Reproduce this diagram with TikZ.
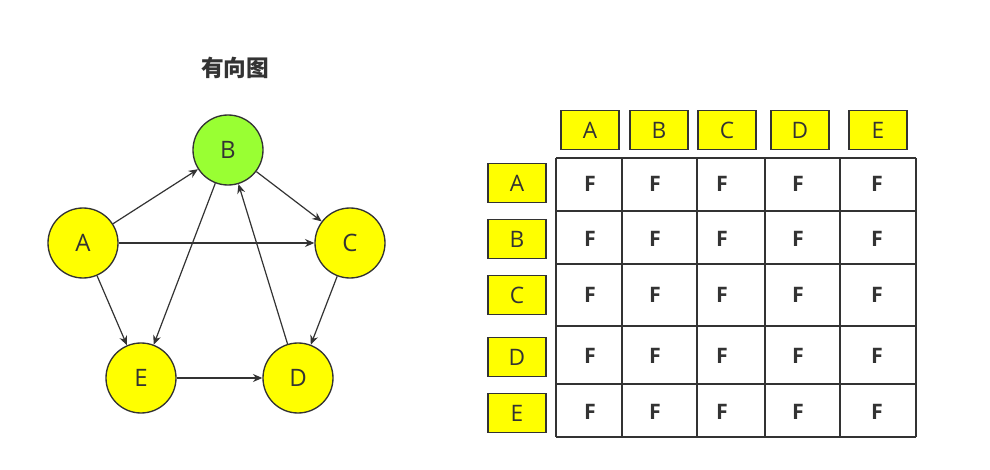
\documentclass[tikz,border=0pt]{standalone}
\usepackage{fontspec}
\setmainfont{Open Sans}
\newfontfamily\cjk{Noto Sans CJK SC}
\usetikzlibrary{arrows.meta}
\definecolor{ylw}{HTML}{FFFF00}
\definecolor{grn}{HTML}{99FF33}
\definecolor{edge}{HTML}{333333}
\definecolor{tred}{HTML}{FF3333}
\tikzset{
 vert/.style={circle,draw=edge,line width=1pt,minimum size=52.5pt,inner sep=0pt,font=\fontsize{18}{18}\selectfont,text=edge},
 arr/.style={-{Stealth[length=7pt,width=6pt]},draw=edge,line width=0.9pt},
 lab/.style={draw=edge,fill=ylw,line width=0.8pt,minimum width=43.5pt,minimum height=29pt,inner sep=0pt,font=\fontsize{17}{17}\selectfont,text=edge},
 cellF/.style={font=\bfseries\fontsize{16}{16}\selectfont,text=edge},
 cellT/.style={font=\bfseries\fontsize{16}{16}\selectfont,text=tred},
 gridl/.style={draw=edge,line width=0.9pt}
}
\begin{document}
\begin{tikzpicture}[x=0.75pt,y=-0.75pt]
\useasboundingbox[fill=white] (0,0) rectangle (990,470);
\node[font=\cjk\bfseries\fontsize{17}{17}\selectfont,text=edge] (title) at (235,68) {有向图};
\node[vert,fill=ylw] (A) at (83,243) {A};
\node[vert,fill=grn] (B) at (228,150) {B};
\node[vert,fill=ylw] (C) at (350,243) {C};
\node[vert,fill=ylw] (D) at (298,378) {D};
\node[vert,fill=ylw] (E) at (141,378) {E};
\draw[arr] (A) -- (B);
\draw[arr] (A) -- (C);
\draw[arr] (A) -- (E);
\draw[arr] (B) -- (C);
\draw[arr] (B) -- (E);
\draw[arr] (D) -- (B);
\draw[arr] (C) -- (D);
\draw[arr] (E) -- (D);
% header labels
\node[lab] (hA) at (590,130) {A};
\node[lab] (hB) at (659,130) {B};
\node[lab] (hC) at (727,130) {C};
\node[lab] (hD) at (800,130) {D};
\node[lab] (hE) at (878,130) {E};
\node[lab] (rA) at (517,183) {A};
\node[lab] (rB) at (517,239) {B};
\node[lab] (rC) at (517,295) {C};
\node[lab] (rD) at (517,357) {D};
\node[lab] (rE) at (517,413) {E};
% grid
\foreach \y in {158,211,264,326,384,437} \draw[gridl] (556,\y) -- (916,\y);
\foreach \x in {556,622,697,765,840,916} \draw[gridl] (\x,158) -- (\x,437);
\foreach \r/\yy/\vals in {1/184/{F,T,T,T,F},2/239/{F,F,T,F,T},3/295/{F,F,F,T,F},4/356/{F,T,F,F,F},5/412/{F,F,F,T,F}}{
 \foreach \v [count=\c] in \vals {
  \pgfmathsetmacro\xx{{0,590,655,722,798,877}[\c]}
  \ifx\v T\node[cellT] (c\r\c) at (\xx,\yy) {T};\else\node[cellF] (c\r\c) at (\xx,\yy) {F};\fi
 }
}
\end{tikzpicture}
\end{document}
